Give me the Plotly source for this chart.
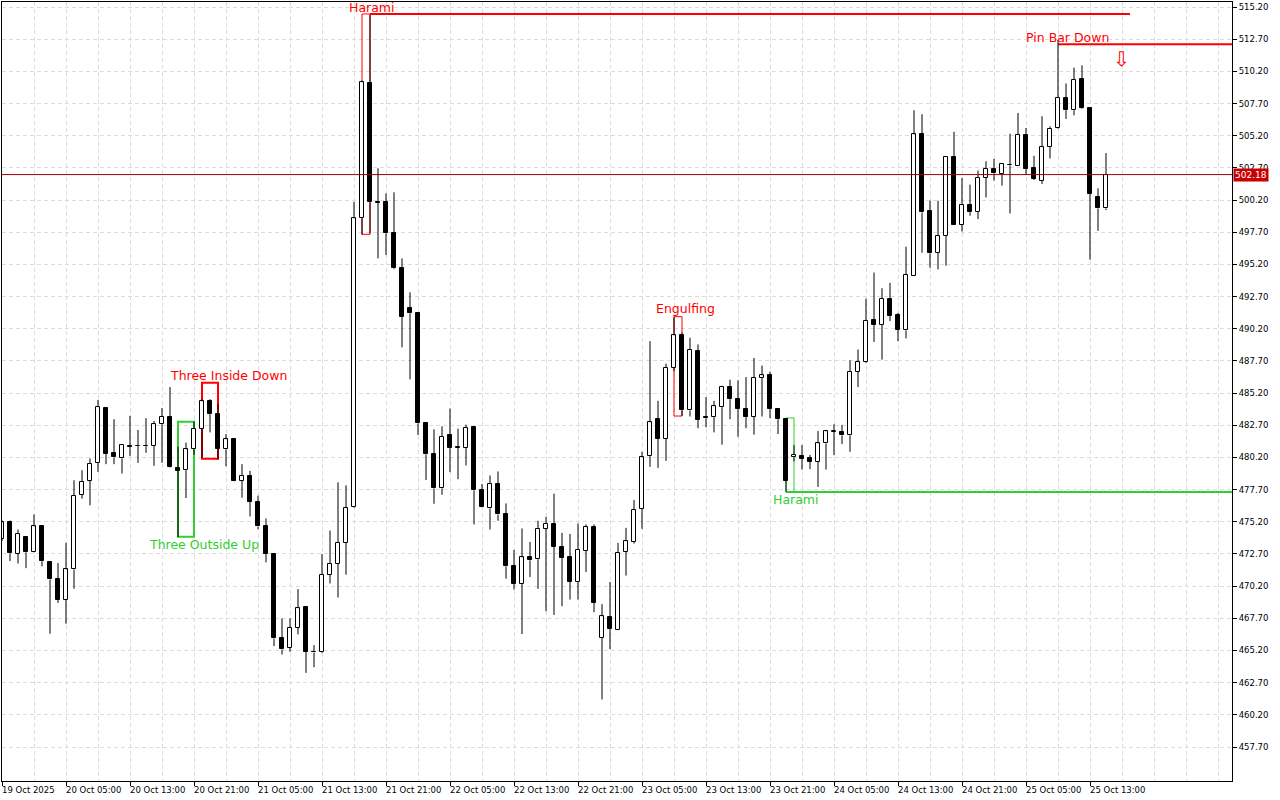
import plotly.graph_objects as go

# hourly bars, 19 Oct 2025 21:00 .. 25 Oct 2025 15:00
opens = [473.9, 475.2, 472.7, 474.05, 472.83, 474.84, 472.08, 470.75, 469.16, 471.5,
         477.31, 478.38, 479.78, 484.03, 480.51, 480.12, 481.1, 481.1, 481.1, 481.09,
         482.78, 483.38, 479.42, 479.21, 480.83, 482.39, 484.6, 483.59, 480.83, 481.61,
         478.38, 478.79, 476.76, 474.89, 472.7, 466.19, 465.41, 466.97, 468.59, 465.1,
         465.07, 471.09, 471.92, 473.56, 476.37, 498.78, 509.27, 500.05, 500.03, 497.62,
         494.9, 491.79, 491.4, 482.85, 480.47, 477.8, 481.92, 481.0, 480.93, 482.54,
         477.68, 476.24, 478.14, 475.8, 471.74, 470.38, 472.44, 472.29, 474.68, 475.05,
         473.22, 472.47, 470.52, 472.96, 474.78, 466.19, 467.78, 466.82, 472.86, 473.64,
         476.22, 480.3, 483.19, 481.66, 487.15, 489.68, 483.85, 488.51, 483.35, 483.33,
         484.11, 485.67, 484.76, 483.98, 483.38, 486.37, 486.61, 483.95, 483.17, 480.2,
         480.33, 480.15, 479.86, 481.29, 482.2, 482.18, 481.92, 486.84, 487.62, 490.85,
         490.51, 492.54, 491.24, 490.07, 494.32, 505.3, 499.37, 496.11, 497.41, 503.56,
         498.3, 499.81, 499.26, 501.92, 502.62, 502.21, 502.93, 502.88, 505.25, 502.67,
         501.71, 504.32, 505.8, 508.14, 507.18, 509.63, 507.36, 500.46, 499.55]
highs = [475.3, 475.3, 474.6, 474.1, 475.77, 474.9, 472.1, 472.0, 473.56, 478.43,
         479.21, 480.12, 484.68, 484.1, 483.17, 481.2, 483.43, 482.34, 483.25, 483.04,
         484.03, 485.67, 481.03, 481.35, 482.99, 484.73, 484.73, 484.37, 482.02, 481.65,
         479.68, 479.16, 477.23, 475.46, 472.75, 467.7, 467.7, 469.97, 468.66, 465.62,
         472.7, 474.52, 478.27, 478.04, 500.07, 509.5, 514.58, 502.67, 500.72, 500.8,
         495.67, 493.03, 491.45, 482.9, 482.39, 482.62, 484.0, 482.44, 482.75, 482.6,
         478.14, 478.8, 479.11, 476.63, 473.01, 474.68, 473.64, 475.28, 475.59, 477.39,
         474.34, 474.26, 475.07, 475.0, 475.0, 468.8, 470.52, 473.56, 474.73, 476.89,
         480.64, 489.24, 484.6, 487.49, 491.1, 489.9, 489.5, 488.98, 484.89, 484.6,
         485.77, 486.24, 486.19, 486.45, 487.93, 487.34, 486.87, 484.0, 483.27, 481.16,
         481.16, 480.4, 482.26, 482.34, 482.78, 482.73, 487.75, 488.59, 492.54, 494.57,
         493.35, 493.77, 491.43, 496.58, 507.18, 506.87, 500.15, 500.15, 503.6, 505.51,
         501.92, 501.4, 502.49, 503.22, 503.4, 503.0, 505.36, 506.97, 505.8, 503.64,
         506.71, 505.93, 512.64, 509.26, 510.49, 510.67, 507.4, 501.11, 503.85]
lows = [473.7, 472.15, 471.95, 471.6, 472.8, 471.74, 466.5, 468.9, 467.28, 470.0,
        477.0, 476.48, 479.08, 479.68, 479.68, 478.95, 480.3, 479.78, 480.56, 479.55,
        479.78, 479.42, 474.0, 477.05, 480.4, 480.2, 482.15, 480.04, 479.52, 478.35,
        477.08, 475.62, 474.63, 472.05, 465.54, 464.89, 465.1, 466.45, 463.46, 463.9,
        465.0, 470.41, 469.32, 471.09, 476.3, 497.5, 497.6, 495.67, 495.93, 494.82,
        488.76, 486.27, 481.94, 478.45, 476.6, 477.3, 479.06, 478.51, 479.58, 475.0,
        476.3, 474.6, 475.28, 470.78, 469.94, 466.48, 470.91, 469.99, 468.25, 467.96,
        468.64, 469.16, 469.16, 471.3, 468.17, 461.4, 465.31, 466.8, 471.02, 473.51,
        474.65, 479.47, 479.39, 479.94, 486.9, 483.43, 483.38, 482.47, 482.54, 482.15,
        481.19, 483.17, 481.81, 482.47, 481.97, 483.38, 483.25, 482.02, 477.52, 479.9,
        479.26, 479.29, 477.91, 479.26, 480.38, 481.24, 480.64, 485.67, 487.55, 489.18,
        487.8, 490.8, 489.24, 489.45, 494.3, 496.11, 494.94, 494.81, 495.1, 498.3,
        497.75, 498.98, 498.72, 500.41, 501.72, 501.32, 499.16, 502.85, 502.15, 501.76,
        501.45, 503.43, 505.75, 506.5, 506.79, 507.3, 495.57, 497.81, 499.42]
closes = [475.15, 472.75, 474.26, 472.83, 474.84, 472.13, 470.72, 469.16, 471.5, 477.23,
          478.33, 479.73, 484.11, 480.49, 480.2, 481.19, 481.05, 481.08, 481.08, 482.78,
          483.38, 479.47, 479.16, 480.83, 482.44, 484.55, 483.56, 480.85, 481.61, 478.38,
          478.79, 476.74, 474.84, 472.7, 466.14, 465.28, 466.97, 468.48, 465.1, 465.05,
          471.09, 471.92, 473.56, 476.3, 498.78, 509.35, 500.03, 500.0, 497.62, 494.9,
          491.14, 491.4, 482.85, 480.44, 477.8, 481.82, 480.93, 480.97, 482.52, 477.65,
          476.32, 478.14, 475.77, 471.74, 470.38, 472.44, 472.21, 474.68, 475.05, 473.28,
          472.42, 470.52, 473.01, 474.78, 468.9, 467.86, 466.87, 472.78, 473.69, 476.11,
          480.2, 482.93, 481.66, 487.15, 489.68, 483.85, 488.56, 483.14, 483.25, 484.18,
          485.67, 484.73, 483.95, 483.38, 486.37, 486.58, 483.95, 483.17, 478.38, 480.38,
          480.1, 479.86, 481.29, 482.23, 482.22, 481.92, 486.84, 487.62, 490.8, 490.51,
          492.54, 491.19, 490.12, 494.37, 505.3, 499.24, 496.06, 497.41, 503.56, 498.3,
          499.81, 499.26, 501.92, 502.62, 502.27, 502.99, 502.9, 505.25, 502.65, 501.87,
          504.32, 505.72, 508.14, 507.18, 509.55, 507.36, 500.67, 499.55, 502.18]

time_labels = ["19 Oct 2025", "20 Oct 05:00", "20 Oct 13:00", "20 Oct 21:00", "21 Oct 05:00",
               "21 Oct 13:00", "21 Oct 21:00", "22 Oct 05:00", "22 Oct 13:00", "22 Oct 21:00",
               "23 Oct 05:00", "23 Oct 13:00", "23 Oct 21:00", "24 Oct 05:00", "24 Oct 13:00",
               "24 Oct 21:00", "25 Oct 05:00", "25 Oct 13:00"]
label_bars = [8 * k for k in range(len(time_labels))]

price_ticks = [457.7 + 2.5 * k for k in range(24)]
last_price = 502.18

RED = "#ff0000"
GREEN = "#32cd32"
FONT = "DejaVu Sans"

n = len(opens)
bars = list(range(n))

# wicks: upper and lower segments only, so white bodies stay clean
wx, wy = [], []
for i in bars:
    top = max(opens[i], closes[i])
    bot = min(opens[i], closes[i])
    wx += [i, i, None, i, i, None]
    wy += [highs[i], top, None, bot, lows[i], None]

body_base = [min(o, c) for o, c in zip(opens, closes)]
body_h = [max(abs(c - o), 0.04) for o, c in zip(opens, closes)]
body_col = ["white" if c >= o else "black" for o, c in zip(opens, closes)]

fig = go.Figure()
fig.add_trace(go.Scatter(x=wx, y=wy, mode="lines", line=dict(color="black", width=1),
                         hoverinfo="skip", showlegend=False))
fig.add_trace(go.Bar(x=bars, y=body_h, base=body_base, width=0.56,
                     marker=dict(color=body_col, line=dict(color="black", width=1)),
                     hoverinfo="skip", showlegend=False))

# pattern boxes and levels
shapes = [
    dict(type="rect", x0=25, x1=27, y0=480.1, y1=486.0, line=dict(color=RED, width=2)),
    dict(type="rect", x0=22, x1=24, y0=474.04, y1=482.98, line=dict(color=GREEN, width=2)),
    dict(type="rect", x0=84, x1=85, y0=483.42, y1=491.14, line=dict(color=RED, width=1)),
    dict(type="rect", x0=45, x1=46, y0=497.54, y1=514.66, line=dict(color=RED, width=1)),
    dict(type="line", x0=46, x1=141, y0=514.66, y1=514.66, line=dict(color=RED, width=2)),
    dict(type="rect", x0=98, x1=99, y0=477.52, y1=483.27, line=dict(color=GREEN, width=1)),
    dict(type="line", x0=98, x1=153.75, y0=477.52, y1=477.52, line=dict(color=GREEN, width=2)),
    dict(type="line", x0=132, x1=153.75, y0=512.3, y1=512.3, line=dict(color=RED, width=2)),
]
for s in shapes:
    s.update(xref="x", yref="y", layer="between")
shapes.append(dict(type="line", xref="paper", yref="y", x0=0, x1=1, y0=last_price, y1=last_price,
                   line=dict(color="#a00000", width=1), layer="above"))
fig.update_layout(shapes=shapes)

labels = [
    ("Harami", 46.3, 515.2, RED),
    ("Three Inside Down", 28.3, 486.6, RED),
    ("Three Outside Up", 25.3, 473.4, GREEN),
    ("Engulfing", 85.4, 491.8, RED),
    ("Harami", 99.2, 476.9, GREEN),
    ("Pin Bar Down", 133.2, 512.87, RED),
]
for txt, x, y, col in labels:
    fig.add_annotation(x=x, y=y, text=txt, showarrow=False, xanchor="center", yanchor="middle",
                       font=dict(family=FONT, size=12.5, color=col))
fig.add_annotation(x=139.9, y=511.2, text="⇩", showarrow=False, xanchor="center", yanchor="middle",
                   font=dict(family=FONT, size=20, color=RED))

for b, t in zip(label_bars, time_labels):
    fig.add_annotation(x=b, y=0, xref="x", yref="paper", text=t, showarrow=False,
                       xanchor="left", yanchor="top", xshift=-2, yshift=-2,
                       font=dict(family=FONT, size=8.5, color="black"))

fig.add_annotation(x=1, y=last_price, xref="paper", yref="y", text="502.18", showarrow=False,
                   xanchor="left", yanchor="middle", xshift=1, bgcolor="#c80000", borderpad=1,
                   font=dict(family=FONT, size=9, color="white"))

grid = dict(gridcolor="#dcdcdc", griddash="4px,3px", gridwidth=1)
fig.update_xaxes(range=[0, 153.75], tickmode="array", tickvals=label_bars,
                 ticktext=["" for _ in label_bars], ticks="outside", ticklen=4, tickcolor="black",
                 showline=True, mirror=True, linecolor="black", linewidth=1, zeroline=False,
                 showgrid=True, minor=dict(tick0=0, dtick=4, showgrid=True, **grid), **grid)
fig.update_yaxes(range=[455.06, 515.59], side="right", tickmode="array", tickvals=price_ticks,
                 ticktext=[f"{v:.2f}" for v in price_ticks], ticks="outside", ticklen=4,
                 tickcolor="black", tickfont=dict(family=FONT, size=8.5, color="black"),
                 showline=True, mirror=True, linecolor="black", linewidth=1, zeroline=False,
                 showgrid=True, **grid)

fig.update_layout(width=1280, height=800, margin=dict(l=2, r=48, t=2, b=19),
                  paper_bgcolor="white", plot_bgcolor="white", bargap=0,
                  showlegend=False, hovermode=False)

# the page's default body margin would push the figure 8px off
fig.write_html("out.html", config={"displayModeBar": False},
               post_script="document.body.style.margin='0px';")
